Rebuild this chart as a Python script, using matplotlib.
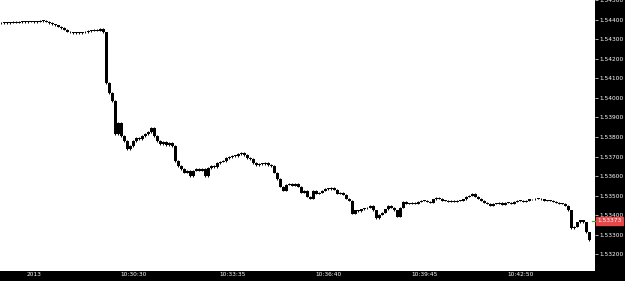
import numpy as np
import matplotlib
matplotlib.use("Agg")
import matplotlib.pyplot as plt

# closing prices of each candle (left to right)
closes = [
    1.54382, 1.54385, 1.54382, 1.54385, 1.54387, 1.54385, 1.54387, 1.54390, 1.54387, 1.54390,
    1.54390, 1.54387, 1.54390, 1.54392, 1.54392, 1.54390, 1.54382, 1.54375, 1.54370, 1.54364,
    1.54357, 1.54349, 1.54339, 1.54334, 1.54331, 1.54329, 1.54331, 1.54334, 1.54336, 1.54342,
    1.54344, 1.54349, 1.54344, 1.54352, 1.54334, 1.54075, 1.54024, 1.53983, 1.53816, 1.53872,
    1.53806, 1.53780, 1.53740, 1.53755, 1.53780, 1.53795, 1.53790, 1.53806, 1.53816, 1.53826,
    1.53846, 1.53806, 1.53780, 1.53765, 1.53775, 1.53760, 1.53770, 1.53755, 1.53679, 1.53653,
    1.53638, 1.53618, 1.53628, 1.53602, 1.53628, 1.53638, 1.53628, 1.53638, 1.53602, 1.53643,
    1.53653, 1.53648, 1.53668, 1.53674, 1.53679, 1.53694, 1.53699, 1.53704, 1.53704, 1.53714,
    1.53719, 1.53709, 1.53694, 1.53689, 1.53668, 1.53658, 1.53663, 1.53663, 1.53668, 1.53658,
    1.53653, 1.53618, 1.53587, 1.53547, 1.53526, 1.53557, 1.53562, 1.53552, 1.53562, 1.53547,
    1.53516, 1.53526, 1.53496, 1.53486, 1.53526, 1.53511, 1.53516, 1.53526, 1.53536, 1.53536,
    1.53541, 1.53531, 1.53511, 1.53516, 1.53506, 1.53486, 1.53475, 1.53409, 1.53425, 1.53420,
    1.53430, 1.53435, 1.53440, 1.53450, 1.53425, 1.53384, 1.53404, 1.53414, 1.53430, 1.53450,
    1.53440, 1.53425, 1.53394, 1.53440, 1.53470, 1.53460, 1.53460, 1.53465, 1.53460, 1.53470,
    1.53475, 1.53475, 1.53470, 1.53465, 1.53481, 1.53491, 1.53486, 1.53475, 1.53475, 1.53470,
    1.53475, 1.53470, 1.53475, 1.53475, 1.53481, 1.53496, 1.53501, 1.53511, 1.53496, 1.53486,
    1.53475, 1.53465, 1.53460, 1.53450, 1.53460, 1.53460, 1.53465, 1.53455, 1.53465, 1.53465,
    1.53460, 1.53470, 1.53475, 1.53475, 1.53470, 1.53475, 1.53481, 1.53481, 1.53486, 1.53486,
    1.53481, 1.53475, 1.53475, 1.53475, 1.53470, 1.53465, 1.53460, 1.53460, 1.53450, 1.53425,
    1.53333, 1.53343, 1.53364, 1.53374, 1.53364, 1.53313, 1.53272,
]
first_open = 1.54380

price_ticks = [1.5320, 1.5330, 1.5340, 1.5350, 1.5360, 1.5370, 1.5380,
               1.5390, 1.5400, 1.5410, 1.5420, 1.5430, 1.5440, 1.5450]
time_pos = [11, 44, 77, 109, 141, 173]
time_labels = ["2013", "10:30:30", "10:33:35", "10:36:40", "10:39:45", "10:42:50"]
last_price = 1.53373

closes = np.array(closes)
opens = np.concatenate([[first_open], closes[:-1]])
idx = np.arange(len(closes))

fig = plt.figure(figsize=(6.25, 2.81), dpi=100, facecolor="black")
ax = fig.add_axes([0, 10 / 281, 595 / 625, 271 / 281])
ax.set_facecolor("white")

# candles: black bodies, with a minimum height so flat ones still show
lo = np.minimum(opens, closes)
hi = np.maximum(opens, closes)
h = np.maximum(hi - lo, 0.00005)
ax.bar(idx, h, bottom=lo, width=0.7, color="black", linewidth=0)
ax.vlines(idx, lo - 0.00004, hi + 0.00004, color="black", linewidth=0.7)

ax.set_xlim(-0.5, 595 / 3 - 0.5)
ax.set_ylim(1.531157, 1.544914)

for s in ax.spines.values():
    s.set_visible(False)

ax.yaxis.tick_right()
ax.set_yticks(price_ticks)
ax.set_yticklabels([f"{p:.5f}" for p in price_ticks])
ax.tick_params(axis="y", colors="white", labelsize=4.2, length=2, width=0.5, pad=1.5)

ax.set_xticks(time_pos)
ax.set_xticklabels(time_labels)
ax.tick_params(axis="x", colors="white", labelsize=4.2, length=0, pad=1)

# current price marker
ax.plot([ax.get_xlim()[1] - 1, ax.get_xlim()[1]], [last_price, last_price],
        color="#2bb52b", linewidth=0.8, clip_on=False)
ax.text(1.004, last_price, f"{last_price:.5f}", transform=ax.get_yaxis_transform(),
        color="white", fontsize=4.2, va="center", ha="left",
        bbox=dict(boxstyle="square,pad=0.25", facecolor="#e8474a", edgecolor="#e8474a"))

fig.savefig("out.png", dpi=100, facecolor="black")
